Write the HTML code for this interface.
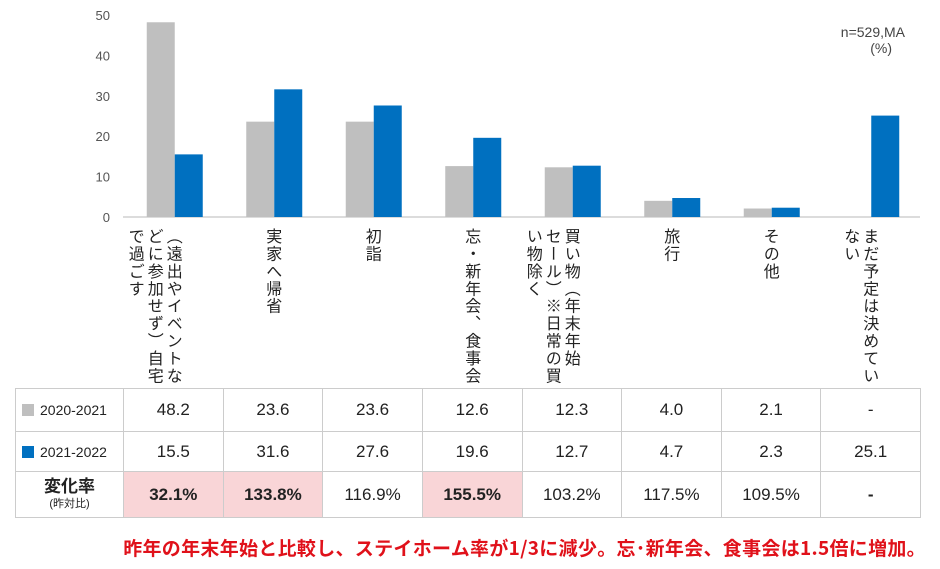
<!DOCTYPE html>
<html><head><meta charset="utf-8">
<style>
body{margin:0;background:#fff;width:940px;height:569px;overflow:hidden;font-family:"Liberation Sans","Noto Sans CJK JP",sans-serif;}
#wrap{position:relative;width:940px;height:569px;}
.vl{position:absolute;top:228px;writing-mode:vertical-rl;font-size:16px;letter-spacing:1.4px;line-height:19px;color:#222;font-family:"Noto Sans CJK JP",sans-serif;white-space:nowrap;}
table{position:absolute;left:15px;top:388px;border-collapse:collapse;font-size:17px;color:#222;table-layout:fixed;width:906px;}
td{border:1.5px solid #ccc;text-align:center;padding:0;}
td.h{font-size:14px;text-align:left;padding-left:6px;}
.sw{display:inline-block;width:12px;height:12px;margin-right:6px;vertical-align:-1px;}
.pk{background:#f9d5d7;}
.b{font-weight:bold;}
#note{position:absolute;right:14px;top:534px;color:#e0111a;font-weight:bold;font-size:19px;letter-spacing:0.3px;font-family:"Noto Sans CJK JP",sans-serif;white-space:nowrap;}
</style></head><body><div id="wrap">
<svg id="svg" width="940" height="390" style="position:absolute;left:0;top:0"></svg>
<div id="labels"></div>
<table>
<colgroup><col style="width:108px"><col><col><col><col><col><col><col><col></colgroup>
<tr style="height:43px"><td class="h"><span class="sw" style="background:#bfbfbf"></span>2020-2021</td><td>48.2</td><td>23.6</td><td>23.6</td><td>12.6</td><td>12.3</td><td>4.0</td><td>2.1</td><td>-</td></tr>
<tr style="height:40px"><td class="h"><span class="sw" style="background:#0070c0"></span>2021-2022</td><td>15.5</td><td>31.6</td><td>27.6</td><td>19.6</td><td>12.7</td><td>4.7</td><td>2.3</td><td>25.1</td></tr>
<tr style="height:46px"><td class="h" style="text-align:center;padding:0;line-height:15px"><span style="font-weight:bold;font-size:17px;font-family:'Noto Sans CJK JP',sans-serif">変化率</span><br><span style="font-size:11px">(昨対比)</span></td><td class="pk b">32.1%</td><td class="pk b">133.8%</td><td>116.9%</td><td class="pk b">155.5%</td><td>103.2%</td><td>117.5%</td><td>109.5%</td><td class="b">-</td></tr>
</table>
<div id="note">昨年の年末年始と比較し、ステイホーム率が1/3に減少。忘･新年会、食事会は1.5倍に増加。</div>
</div>
<script>
const categories=["（遠出やイベントな\nどに参加せず）自宅\nで過ごす","実家へ帰省","初詣","忘・新年会、食事会","買い物（年末年始\nセール）※日常の買\nい物除く","旅行","その他","まだ予定は決めてい\nない"];
const series2020=[48.2,23.6,23.6,12.6,12.3,4.0,2.1,null];
const series2021=[15.5,31.6,27.6,19.6,12.7,4.7,2.3,25.1];
const yTicks=[0,10,20,30,40,50];
const NS="http://www.w3.org/2000/svg";
const svg=document.getElementById('svg');
const x0=125,cw=99.5,y0=217,ppu=40.4,bw=28;
const y=v=>y0-v*ppu/10;
const cx=i=>x0+cw*(i+0.5);
function mk(t,a){const e=document.createElementNS(NS,t);for(const k in a)e.setAttribute(k,a[k]);svg.appendChild(e);return e;}
yTicks.forEach(t=>{const e=mk('text',{x:110,y:y(t)+5,'text-anchor':'end','font-size':13,fill:'#555'});e.textContent=t;

});
const ax=mk('line',{x1:x0-2,x2:920,y1:y0,y2:y0,stroke:'#d0d0d0','stroke-width':1.5});


categories.forEach((c,i)=>{
 if(series2020[i]!=null){const r=mk('rect',{x:cx(i)-bw,y:y(series2020[i]),width:bw,height:y0-y(series2020[i]),fill:'#bfbfbf'});
 
 }
 const r2=mk('rect',{x:cx(i),y:y(series2021[i]),width:bw,height:y0-y(series2021[i]),fill:'#0070c0'});
 
 
 const d=document.createElement('div');d.className='vl';
 const lines=c.split('\n');
 d.innerHTML=lines.join('<br>');
 d.style.left=(cx(i)-19-(lines.length-1)*19+9)+'px';
 
 
 document.getElementById('labels').appendChild(d);
});
const n1=mk('text',{x:905,y:37,'text-anchor':'end','font-size':14,fill:'#444'});n1.textContent='n=529,MA';


const n2=mk('text',{x:892,y:53,'text-anchor':'end','font-size':14,fill:'#444'});n2.textContent='(%)';


</script>
</body></html>
